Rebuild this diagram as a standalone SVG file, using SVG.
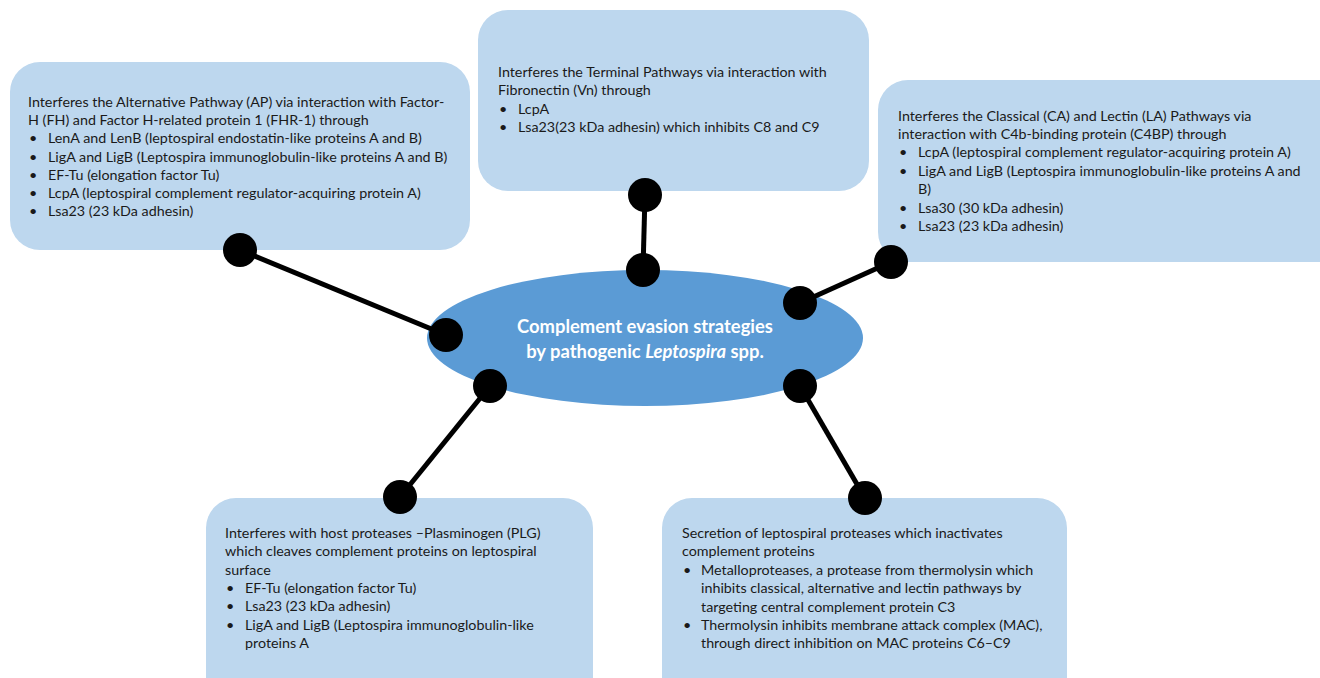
<svg xmlns="http://www.w3.org/2000/svg" width="1320" height="678" viewBox="0 0 1320 678">
<style>
.box{fill:#BDD7EE}
.t{font-family:Lato,"Liberation Sans",sans-serif;font-size:14.3px;fill:#1a1a1a}
.c{fill:#000}
.ln{stroke:#000;stroke-width:5;fill:none}
.ct{font-family:Lato,"Liberation Sans",sans-serif;font-size:18.4px;font-weight:bold;fill:#fff;text-anchor:middle}
</style>
<rect width="1320" height="678" fill="#fff"/>
<g id="box-ap">
<rect class="box" x="10" y="62" width="460" height="188" rx="30"/>
<text class="t"><tspan x="28" y="107">Interferes the Alternative Pathway (AP) via interaction with Factor-</tspan><tspan x="28" y="125">H (FH) and Factor H-related protein 1 (FHR-1) through</tspan><tspan x="29" y="143">•</tspan><tspan x="48" y="143">LenA and LenB (leptospiral endostatin-like proteins A and B)</tspan><tspan x="29" y="162">•</tspan><tspan x="48" y="162">LigA and LigB (Leptospira immunoglobulin-like proteins A and B)</tspan><tspan x="29" y="180">•</tspan><tspan x="48" y="180">EF-Tu (elongation factor Tu)</tspan><tspan x="29" y="198">•</tspan><tspan x="48" y="198">LcpA (leptospiral complement regulator-acquiring protein A)</tspan><tspan x="29" y="216">•</tspan><tspan x="48" y="216">Lsa23 (23 kDa adhesin)</tspan></text>
</g>
<g id="box-terminal">
<rect class="box" x="478" y="10" width="391" height="181" rx="30"/>
<text class="t"><tspan x="498" y="77">Interferes the Terminal Pathways via interaction with</tspan><tspan x="498" y="95">Fibronectin (Vn) through</tspan><tspan x="499" y="114">•</tspan><tspan x="518" y="114">LcpA</tspan><tspan x="499" y="132">•</tspan><tspan x="518" y="132">Lsa23(23 kDa adhesin) which inhibits C8 and C9</tspan></text>
</g>
<g id="box-classical">
<rect class="box" x="878" y="80" width="472" height="182" rx="30"/>
<text class="t"><tspan x="898" y="121">Interferes the Classical (CA) and Lectin (LA) Pathways via</tspan><tspan x="898" y="139">interaction with C4b-binding protein (C4BP) through</tspan><tspan x="899" y="157">•</tspan><tspan x="918" y="157">LcpA (leptospiral complement regulator-acquiring protein A)</tspan><tspan x="899" y="176">•</tspan><tspan x="918" y="176">LigA and LigB (Leptospira immunoglobulin-like proteins A and</tspan><tspan x="918" y="194">B)</tspan><tspan x="899" y="213">•</tspan><tspan x="918" y="213">Lsa30 (30 kDa adhesin)</tspan><tspan x="899" y="231">•</tspan><tspan x="918" y="231">Lsa23 (23 kDa adhesin)</tspan></text>
</g>
<g id="box-plg">
<rect class="box" x="206" y="498" width="387" height="210" rx="30"/>
<text class="t"><tspan x="225" y="538">Interferes with host proteases –Plasminogen (PLG)</tspan><tspan x="225" y="556">which cleaves complement proteins on leptospiral</tspan><tspan x="225" y="575">surface</tspan><tspan x="226" y="593">•</tspan><tspan x="245" y="593">EF-Tu (elongation factor Tu)</tspan><tspan x="226" y="611">•</tspan><tspan x="245" y="611">Lsa23 (23 kDa adhesin)</tspan><tspan x="226" y="630">•</tspan><tspan x="245" y="630">LigA and LigB (Leptospira immunoglobulin-like</tspan><tspan x="245" y="648">proteins A</tspan></text>
</g>
<g id="box-proteases">
<rect class="box" x="662" y="498" width="405" height="210" rx="30"/>
<text class="t"><tspan x="682" y="538">Secretion of leptospiral proteases which inactivates</tspan><tspan x="682" y="556">complement proteins</tspan><tspan x="683" y="575">•</tspan><tspan x="701" y="575">Metalloproteases, a protease from thermolysin which</tspan><tspan x="701" y="593">inhibits classical, alternative and lectin pathways by</tspan><tspan x="701" y="612">targeting central complement protein C3</tspan><tspan x="683" y="630">•</tspan><tspan x="701" y="630">Thermolysin inhibits membrane attack complex (MAC),</tspan><tspan x="701" y="648">through direct inhibition on MAC proteins C6–C9</tspan></text>
</g>
<g id="center">
<ellipse cx="645" cy="338" rx="218" ry="68" fill="#5B9BD5"/>
<text class="ct"><tspan x="645" y="333">Complement evasion strategies</tspan><tspan x="645" y="358">by pathogenic <tspan font-style="italic">Leptospira</tspan> spp.</tspan></text>
</g>
<g id="connectors">
<line class="ln" x1="240" y1="250" x2="446" y2="335"/>
<line class="ln" x1="645" y1="195" x2="643" y2="270"/>
<line class="ln" x1="800" y1="303" x2="891" y2="262"/>
<line class="ln" x1="490" y1="386" x2="400" y2="497"/>
<line class="ln" x1="800" y1="386" x2="865" y2="498"/>
<circle class="c" cx="240" cy="250" r="17"/>
<circle class="c" cx="446" cy="335" r="17"/>
<circle class="c" cx="645" cy="195" r="17"/>
<circle class="c" cx="643" cy="270" r="17"/>
<circle class="c" cx="800" cy="303" r="17"/>
<circle class="c" cx="891" cy="262" r="17"/>
<circle class="c" cx="490" cy="386" r="17"/>
<circle class="c" cx="400" cy="497" r="17"/>
<circle class="c" cx="800" cy="386" r="17"/>
<circle class="c" cx="865" cy="498" r="17"/>
</g>
</svg>
